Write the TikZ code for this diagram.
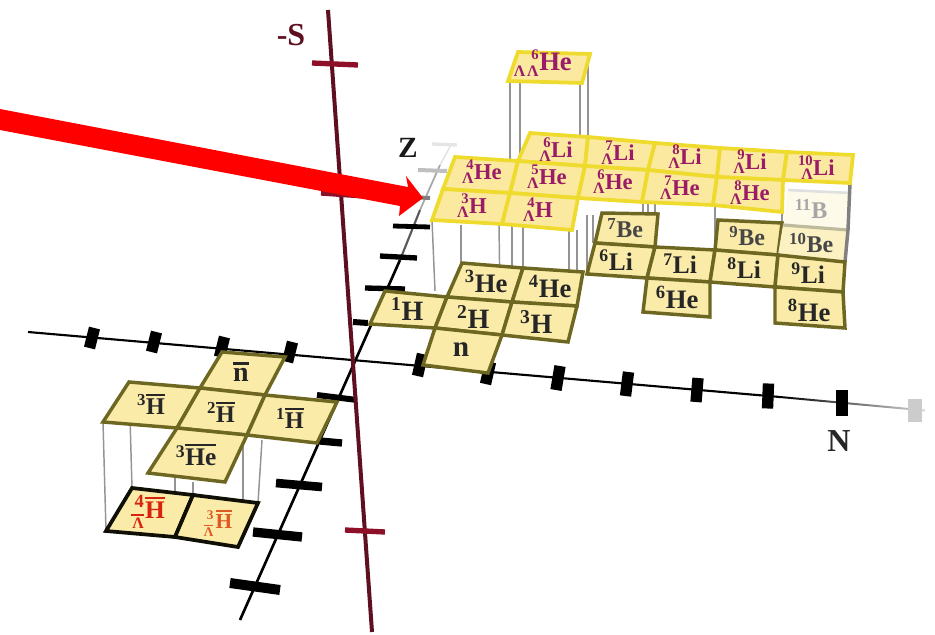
\documentclass[tikz,border=0pt]{standalone}
\usepackage{fontspec}
\setmainfont{Liberation Serif}
\definecolor{cellfill}{HTML}{FAEBA9}
\definecolor{hypfill}{HTML}{FBE99F}
\definecolor{olivel}{HTML}{6E6722}
\definecolor{yell}{HTML}{EEDB2E}
\definecolor{purp}{HTML}{9A1C68}
\definecolor{redt}{HTML}{D8230F}
\definecolor{oranget}{HTML}{DE5A22}
\definecolor{axred}{HTML}{5E1020}
\definecolor{tickred}{HTML}{8E1028}
\newsavebox{\bbx}
\newcommand{\nuc}[2]{\textsuperscript{\kern.02em #1}#2}
\newcommand{\hyp}[2]{\makebox[.5em][r]{\raisebox{.42em}{\fontsize{11}{11}\selectfont #1}}\kern-.5em\makebox[.5em][r]{\raisebox{-.2em}{\fontsize{12}{12}\selectfont Λ}}\kern.02em #2}
\newcommand{\barx}[2]{\sbox{\bbx}{#1}\makebox[0pt][l]{\raisebox{#2}{\rule{\wd\bbx}{.09em}}}\usebox{\bbx}}
\tikzset{
 cellp/.style={draw=olivel,fill=cellfill,line width=2.6pt,line join=miter},
 hypcell/.style={draw=yell,fill=hypfill,line width=2.8pt},
 anticell/.style={draw=black!85!olivel,fill=cellfill,line width=2.8pt},
 lab/.style={font=\bfseries\fontsize{20}{20}\selectfont,text=black!85,inner sep=0pt},
 lismall/.style={font=\bfseries\fontsize{19}{19}\selectfont,text=black!85,inner sep=0pt},
 besmall/.style={font=\bfseries\fontsize{18}{18}\selectfont,text=black!72,inner sep=0pt},
 hlab/.style={font=\bfseries\fontsize{17}{17}\selectfont,text=purp,inner sep=0pt},
 rlab/.style={font=\bfseries\fontsize{19}{19}\selectfont,text=redt,inner sep=0pt},
 leg/.style={draw=black!42,line width=1.1pt},
 axl/.style={draw=black,line width=1.6pt},
 ztick/.style={draw=black,line width=4.5pt},
 ntick/.style={draw=black,line width=8.5pt},
 stick/.style={draw=tickred,line width=4pt},
 axlab/.style={font=\bfseries\fontsize{24}{24}\selectfont,inner sep=0pt},
}
\begin{document}
\begin{tikzpicture}[x=0.75pt,y=-0.75pt]
\useasboundingbox (0,0) rectangle (935,635);
% N axis
\shade[left color=black,right color=black!15,shading angle=90,draw=none] (780,396) -- (925,409.5) -- (925,411.5) -- (780,398) -- cycle;
\draw[axl] (28,332) -- (780,397);
\foreach \x/\y/\s/\h in {92/338/2.5/10,154/342/2.5/10,222/347/2.5/10,290/352/2.5/10,420/365/2.5/11,488/373/2.5/11,558/378/2/12,627/384/1.5/12,697/390/1/12,768/396/.5/12.5,842/403/0/13}
  \draw[ntick] (\x+\s,\y-\h) -- (\x-\s,\y+\h);
\draw[draw=black!20,line width=11pt] (915,399) -- (915,422);
% Z axis and ticks
\draw[axl,line width=2pt] (240,620) -- (400,260);
\draw[draw=black!65,line width=1.6pt] (400,260) -- (420,210);
\draw[draw=black!35,line width=1.3pt] (420,210) -- (440,165);
\draw[draw=black!12,line width=1pt] (440,165) -- (451,145);
\draw[ztick,line width=7.5pt] (230,583) -- (280,590);
\draw[ztick,line width=7pt] (253,532) -- (302,537);
\draw[ztick,line width=6.5pt] (276,483) -- (322,487);
\draw[ztick,line width=5.5pt] (320,441) -- (342,443);
\draw[ztick] (317,395) -- (357,400);
\draw[ztick] (353,322) -- (368,323);
\draw[ztick,line width=4pt] (365,288) -- (405,289);
\draw[ztick,line width=4pt] (380,256) -- (417,258);
\draw[ztick,line width=3.6pt] (393,226) -- (430,227);
\draw[draw=black!50,line width=3pt] (405,197) -- (430,198);
\draw[draw=black!25,line width=3pt] (418,170) -- (447,171);
\draw[draw=black!10,line width=2.5pt] (432,144) -- (457,145);
% hypernuclei legs
\foreach \a/\b/\c/\d in {432/220/435/291,461/225/461/263,499/224/500/300,512/225/512/302,523/226/523/266,569/230/569/340,577/230/577/304,587/215/587/272,593/215/593/243,643/200/643/247,648/200/648/247,655/200/655/247,715/205/715/250,782/212/782/255,510/81/510/190,520/83/520/160,580/83/580/198,588/54/588/166}
  \draw[leg] (\a,\b) -- (\c,\d);
% S axis
\draw[draw=axred,line width=3pt] (328,10) -- (372,632);
\draw[stick] (312,63) -- (358,65);
\draw[stick] (321,193) -- (364,196);
\draw[stick] (345,530) -- (385,532);
% normal nuclei
\fill[fill=cellfill!25] (788,190) -- (850,193) -- (848,230) -- (783,225) -- cycle;
\draw[draw=black!12,line width=2pt] (788,190) -- (850,193);
\draw[cellp] (602,213) -- (658,214) -- (655,247) -- (595,243) -- cycle;
\draw[cellp] (718,220) -- (782,223) -- (778,255) -- (715,250) -- cycle;
\fill[cellfill!70] (783,225) -- (848,230) -- (845,262) -- (778,255) -- cycle;
\draw[draw=olivel!45,line width=2.4pt] (783,225) -- (848,230);
\draw[draw=black!50,line width=2.6pt] (850,183) -- (848,230) -- (845,262);
\draw[cellp] (595,243) -- (655,247) -- (647,278) -- (587,274) -- cycle;
\draw[cellp] (655,247) -- (715,250) -- (710,282) -- (647,278) -- cycle;
\draw[cellp] (715,250) -- (778,255) -- (775,287) -- (710,282) -- cycle;
\draw[cellp] (778,255) -- (845,262) -- (843,292) -- (775,287) -- cycle;
\draw[cellp] (647,278) -- (710,282) -- (710,317) -- (643,312) -- cycle;
\draw[cellp] (775,287) -- (843,292) -- (845,328) -- (775,323) -- cycle;
\draw[cellp] (462,263) -- (523,268) -- (512,302) -- (447,297) -- cycle;
\draw[cellp] (523,268) -- (583,272) -- (577,306) -- (512,302) -- cycle;
\draw[cellp] (385,291) -- (447,297) -- (435,328) -- (370,324) -- cycle;
\draw[cellp] (447,297) -- (512,302) -- (502,335) -- (435,328) -- cycle;
\draw[cellp] (512,302) -- (577,306) -- (568,342) -- (502,335) -- cycle;
\draw[cellp] (435,328) -- (502,335) -- (488,373) -- (423,365) -- cycle;
% hypernuclei
\draw[hypcell] (518,52) -- (590,54) -- (582,83) -- (508,81) -- cycle;
\draw[hypcell] (530,133) -- (588,137) -- (585,166) -- (518,161) -- cycle;
\draw[hypcell] (588,137) -- (655,143) -- (648,170) -- (585,166) -- cycle;
\draw[hypcell] (655,143) -- (720,148) -- (717,177) -- (648,170) -- cycle;
\draw[hypcell] (720,148) -- (787,152) -- (783,180) -- (717,177) -- cycle;
\draw[hypcell] (787,152) -- (853,155) -- (850,183) -- (783,180) -- cycle;
\draw[hypcell] (455,157) -- (518,161) -- (510,193) -- (443,189) -- cycle;
\draw[hypcell] (518,161) -- (585,166) -- (578,198) -- (510,193) -- cycle;
\draw[hypcell] (585,166) -- (648,170) -- (642,202) -- (578,198) -- cycle;
\draw[hypcell] (648,170) -- (717,177) -- (713,205) -- (642,202) -- cycle;
\draw[hypcell] (717,177) -- (783,180) -- (782,212) -- (713,205) -- cycle;
\draw[hypcell] (443,189) -- (510,193) -- (502,224) -- (432,220) -- cycle;
\draw[hypcell] (510,193) -- (578,198) -- (572,230) -- (502,224) -- cycle;
% antimatter legs
\foreach \a/\b/\c/\d in {103/422/106/531,129/382/132/488,175/428/175/537,193/482/193/495,243/435/243/500,262/440/258/503}
  \draw[leg] (\a,\b) -- (\c,\d);
% antimatter cells
\draw[cellp] (222,352) -- (285,357) -- (265,395) -- (200,388) -- cycle;
\draw[cellp] (129,382) -- (200,388) -- (177,428) -- (103,422) -- cycle;
\draw[cellp] (200,388) -- (265,395) -- (247,435) -- (177,428) -- cycle;
\draw[cellp] (265,395) -- (337,402) -- (317,443) -- (247,435) -- cycle;
\draw[cellp] (177,428) -- (247,435) -- (225,482) -- (148,473) -- cycle;
\draw[anticell] (132,488) -- (193,495) -- (175,537) -- (106,531) -- cycle;
\draw[anticell] (193,495) -- (258,503) -- (238,547) -- (175,537) -- cycle;
% labels
\node[lab,font=\bfseries\fontsize{21}{21}\selectfont] (n1) at (407,309) {\nuc{1}{H}};
\node[lab,font=\bfseries\fontsize{21}{21}\selectfont] (n2) at (473,317) {\nuc{2}{H}};
\node[lab,font=\bfseries\fontsize{21}{21}\selectfont] (n3) at (536,322) {\nuc{3}{H}};
\node[lab,font=\bfseries\fontsize{22}{22}\selectfont] (n4) at (461,350) {n};
\node[lab] (n5) at (486,281) {\nuc{3}{He}};
\node[lab] (n6) at (550,286) {\nuc{4}{He}};
\node[lismall] (n7) at (616,260) {\nuc{6}{Li}};
\node[lismall] (n8) at (680,264) {\nuc{7}{Li}};
\node[lismall] (n9) at (744,268) {\nuc{8}{Li}};
\node[lismall] (n10) at (808,273) {\nuc{9}{Li}};
\node[lab] (n11) at (677,297) {\nuc{6}{He}};
\node[lab] (n12) at (809,310) {\nuc{8}{He}};
\node[besmall] (n13) at (625,228) {\nuc{7}{Be}};
\node[besmall] (n14) at (747,236) {\nuc{9}{Be}};
\node[besmall] (n15) at (811,243) {\nuc{10}{Be}};
\node[besmall,text=black!35] (n16) at (811,209) {\nuc{11}{B}};
\node[hlab,font=\bfseries\fontsize{20}{20}\selectfont] (h1) at (543,63) {\makebox[.42em][r]{\raisebox{-.2em}{\fontsize{12}{12}\selectfont Λ}}\hyp{6}{He}};
\node[hlab] (h2) at (556,150) {\hyp{6}{Li}};
\node[hlab] (h3) at (618,153) {\hyp{7}{Li}};
\node[hlab] (h4) at (685,157) {\hyp{8}{Li}};
\node[hlab] (h5) at (750,162) {\hyp{9}{Li}};
\node[hlab] (h6) at (818,168) {\hyp{10}{Li}};
\node[hlab] (h7) at (482,172) {\hyp{4}{He}};
\node[hlab] (h8) at (547,177) {\hyp{5}{He}};
\node[hlab] (h9) at (613,182) {\hyp{6}{He}};
\node[hlab] (h10) at (680,188) {\hyp{7}{He}};
\node[hlab] (h11) at (750,193) {\hyp{8}{He}};
\node[hlab] (h12) at (472,206) {\hyp{3}{H}};
\node[hlab] (h13) at (538,210) {\hyp{4}{H}};
\node[lab,font=\bfseries\fontsize{21}{21}\selectfont] (a1) at (241,372) {\barx{n}{.62em}};
\node[lab,font=\bfseries\fontsize{18}{18}\selectfont] (a2) at (151,404) {\textsuperscript{3}\barx{H}{.76em}};
\node[lab,font=\bfseries\fontsize{18}{18}\selectfont] (a3) at (221,412) {\textsuperscript{2}\barx{H}{.76em}};
\node[lab,font=\bfseries\fontsize{18}{18}\selectfont] (a4) at (290,418) {\textsuperscript{1}\barx{H}{.76em}};
\node[lab,font=\bfseries\fontsize{19}{19}\selectfont] (a5) at (196,455) {\textsuperscript{3}\barx{He}{.76em}};
\node[rlab] (r1) at (148,512) {\makebox[.5em][r]{\raisebox{.42em}{\fontsize{14}{14}\selectfont 4}}\kern-.5em\makebox[.5em][r]{\raisebox{-.4em}{\fontsize{12}{12}\selectfont Λ}}\kern-.5em\makebox[.5em][r]{\rule[.1em]{.5em}{.07em}}\kern.05em\barx{H}{.76em}};
\node[rlab,text=oranget,font=\bfseries\fontsize{16}{16}\selectfont] (r2) at (218,523) {\makebox[.45em][r]{\raisebox{.42em}{\fontsize{10}{10}\selectfont 3}}\kern-.45em\makebox[.45em][r]{\raisebox{-.38em}{\fontsize{10}{10}\selectfont Λ}}\kern-.45em\makebox[.45em][r]{\rule[.1em]{.45em}{.05em}}\kern.1em\barx{H}{.76em}};
\node[axlab,text=axred] (sl) at (291,35) {-S};
\node[axlab,text=black!90,font=\bfseries\fontsize{22}{22}\selectfont] (zl) at (408,148) {Z};
\node[axlab,text=black!85] (nl) at (839,441) {N};
% red arrow
\fill[red] (0,109) -- (408,187) -- (406,176) -- (423,198) -- (399,216) -- (400,206) -- (0,130) -- cycle;
\end{tikzpicture}
\end{document}
